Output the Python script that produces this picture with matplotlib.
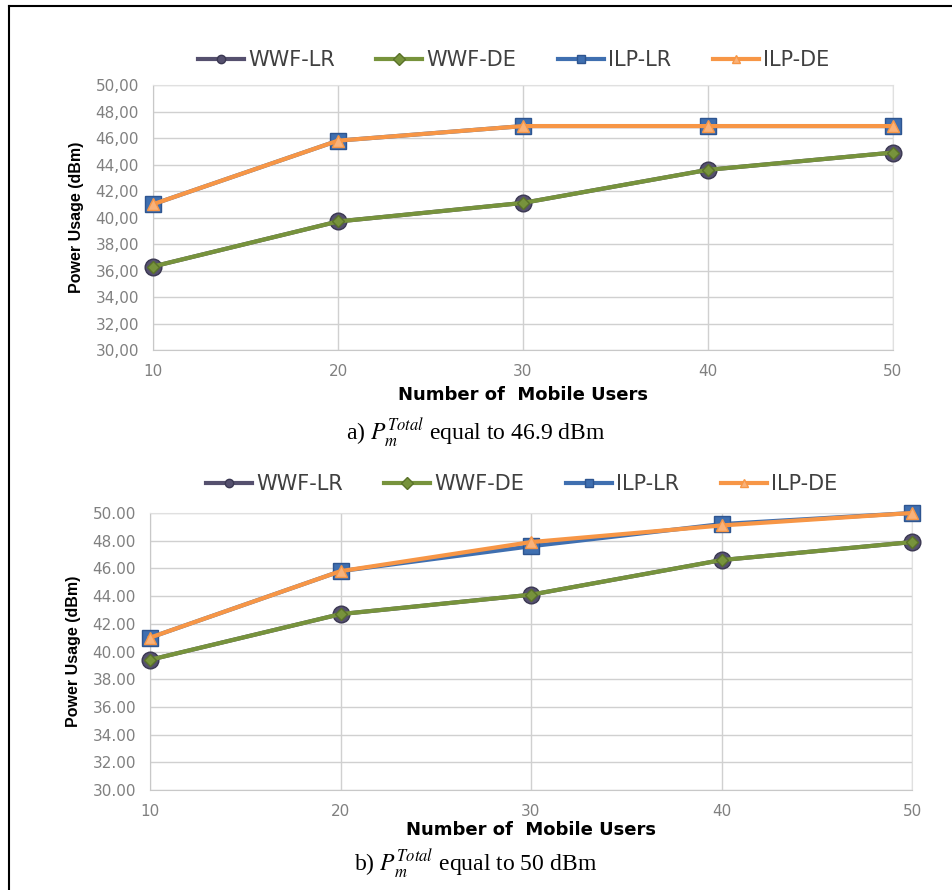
import matplotlib
matplotlib.use("Agg")
import matplotlib.pyplot as plt
from matplotlib.lines import Line2D

users = [10, 20, 30, 40, 50]
series_names = ["WWF-LR", "WWF-DE", "ILP-LR", "ILP-DE"]

# Panel a) P_m^Total = 46.9 dBm
a_wwf_lr = [36.3, 39.7, 41.1, 43.6, 44.9]
a_wwf_de = [36.3, 39.7, 41.1, 43.6, 44.9]
a_ilp_lr = [41.0, 45.8, 46.9, 46.9, 46.9]
a_ilp_de = [41.0, 45.8, 46.9, 46.9, 46.9]

# Panel b) P_m^Total = 50 dBm
b_wwf_lr = [39.4, 42.7, 44.1, 46.6, 47.9]
b_wwf_de = [39.4, 42.7, 44.1, 46.6, 47.9]
b_ilp_lr = [41.0, 45.8, 47.6, 49.2, 50.0]
b_ilp_de = [41.0, 45.8, 47.9, 49.1, 50.0]

yticks = [30, 32, 34, 36, 38, 40, 42, 44, 46, 48, 50]
a_ytick_labels = ["%d,00" % v for v in yticks]
b_ytick_labels = ["%d.00" % v for v in yticks]

captions = [r"a) $P_m^{Total}$ equal to 46.9 dBm", r"b) $P_m^{Total}$ equal to 50 dBm"]

plt.rcParams["mathtext.fontset"] = "stix"

W, H = 952, 890
fig = plt.figure(figsize=(W / 100, H / 100), dpi=100)

# frame lines (left and top)
fig.add_artist(Line2D([9 / W, 9 / W], [0, 1 - 6 / H], color="black", lw=1.5))
fig.add_artist(Line2D([9 / W, 1], [1 - 6 / H, 1 - 6 / H], color="black", lw=1.5))

styles = [
    dict(color="#55506e", marker="o", ms=12, mfc="#55506e", mec="#3b3852", lw=3.0),
    dict(color="#77933c", marker="D", ms=6, mfc="#77933c", mec="#5a7229", lw=3.0),
    dict(color="#3f6fb0", marker="s", ms=12, mfc="#3f6fb0", mec="#2e5590", lw=3.0),
    dict(color="#f79646", marker="^", ms=9, mfc="#f9b27a", mec="#f79646", lw=3.0),
]

def px_rect(l, r, t, b):
    return [l / W, 1 - b / H, (r - l) / W, (b - t) / H]

panels = [
    dict(rect=px_rect(153, 893, 85, 350), data=[a_wwf_lr, a_wwf_de, a_ilp_lr, a_ilp_de],
         ylabels=a_ytick_labels, legend_y=60, xlabel_y=395, caption_y=433, caption=captions[0]),
    dict(rect=px_rect(150, 912, 513, 790), data=[b_wwf_lr, b_wwf_de, b_ilp_lr, b_ilp_de],
         ylabels=b_ytick_labels, legend_y=484, xlabel_y=830, caption_y=864, caption=captions[1]),
]

for p in panels:
    ax = fig.add_axes(p["rect"])
    for name, vals, st in zip(series_names, p["data"], styles):
        ax.plot(users, vals, label=name, clip_on=False, zorder=3, **st)
    ax.set_xlim(10, 50)
    ax.set_ylim(30, 50)
    ax.set_xticks(users)
    ax.set_yticks(yticks)
    ax.set_yticklabels(p["ylabels"])
    ax.tick_params(axis="both", length=0, labelsize=11, labelcolor="#808080", pad=10)
    ax.grid(True, color="#d0d0d0", lw=1.0)
    ax.set_axisbelow(True)
    for s in ["top", "right"]:
        ax.spines[s].set_color("#e0e0e0")
    for s in ["left", "bottom"]:
        ax.spines[s].set_color("#c8c8c8")
    ax.set_ylabel("Power Usage (dBm)", fontsize=11.5, fontweight="bold",
                  family="Liberation Sans", labelpad=8)
    l, b, w, h = p["rect"]
    fig.text(l + w / 2, 1 - p["xlabel_y"] / H, "Number of  Mobile Users", ha="center", va="center",
             fontsize=13, fontweight="bold", family="DejaVu Sans")
    fig.text(0.5, 1 - p["caption_y"] / H, p["caption"], ha="center", va="center",
             fontsize=17, family="Liberation Serif")
    leg_handles = [Line2D([], [], color=st["color"], lw=3, marker=st["marker"], ms=6,
                          mfc=st["mfc"], mec=st["mec"]) for st in styles]
    fig.legend(leg_handles, series_names, loc="center", ncol=4,
               bbox_to_anchor=(l + w / 2 - 0.01, 1 - p["legend_y"] / H), frameon=False,
               fontsize=15, handlelength=2.2, handletextpad=0.2, columnspacing=2.0,
               labelcolor="#404040")

fig.savefig("out.png", dpi=100)
